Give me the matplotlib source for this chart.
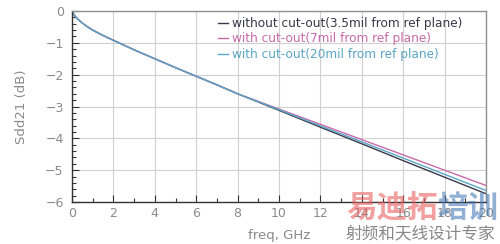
import matplotlib.pyplot as plt
from matplotlib.ticker import MultipleLocator

freq = [0, 0.1, 0.25, 0.5, 0.75, 1, 1.5, 2, 3, 4, 5, 6, 7, 8, 10, 12, 14, 16, 18, 20]
base = [0, -0.12, -0.24, -0.38, -0.5, -0.6, -0.77, -0.92, -1.22, -1.5, -1.78, -2.05, -2.32, -2.6]
sdd21_35mil = base + [-3.12, -3.65, -4.17, -4.7, -5.22, -5.74]
sdd21_7mil = base + [-3.08, -3.56, -4.04, -4.52, -5.0, -5.48]
sdd21_20mil = base + [-3.1, -3.61, -4.11, -4.62, -5.13, -5.64]
labels = ["without cut-out(3.5mil from ref plane)",
          "with cut-out(7mil from ref plane)",
          "with cut-out(20mil from ref plane)"]
colors = ["#383848", "#c86aa8", "#5aa6c6"]

fig = plt.figure(figsize=(5, 2.44), dpi=100)
ax = fig.add_axes([0.144, 0.172, 0.828, 0.783])

for y, lab, c in zip([sdd21_35mil, sdd21_7mil, sdd21_20mil], labels, colors):
    ax.plot(freq, y, color=c, lw=1.0, label=lab)

ax.set_xlim(0, 20)
ax.set_ylim(-6, 0)
ax.xaxis.set_major_locator(MultipleLocator(2))
ax.xaxis.set_minor_locator(MultipleLocator(1))
ax.yaxis.set_major_locator(MultipleLocator(1))
ax.yaxis.set_minor_locator(MultipleLocator(0.2))
ax.grid(True, which="major", color="#d0d0d0", lw=0.8)
ax.tick_params(which="both", direction="in", colors="#333333", labelcolor="#8a8a8a",
               labelsize=9, width=0.8)
ax.tick_params(which="major", length=5)
ax.tick_params(which="minor", length=3)
ax.tick_params(axis="y", pad=6)
for s in ["top", "right"]:
    ax.spines[s].set_color("#909090")
    ax.spines[s].set_linewidth(1.0)
for s in ["left", "bottom"]:
    ax.spines[s].set_color("#333333")
    ax.spines[s].set_linewidth(1.0)

ax.set_ylabel("Sdd21 (dB)", color="#8a8a8a", fontsize=9.5)
ax.set_xlabel("freq, GHz", color="#8a8a8a", fontsize=9.5)
ax.yaxis.set_label_coords(-0.107, 0.5)
ax.xaxis.set_label_coords(0.5, -0.14)

leg = ax.legend(loc="upper left", bbox_to_anchor=(0.436, 0.93), bbox_transform=fig.transFigure,
                frameon=False, fontsize=8.7, handlelength=0.8, handletextpad=0.4,
                labelspacing=0.2, borderaxespad=0, borderpad=0)
for t, c in zip(leg.get_texts(), colors):
    t.set_color(c)

# watermark
cjk = ["Noto Sans CJK SC", "DejaVu Sans"]
fig.text(0.692, 0.08, "易迪拓", family=cjk, fontsize=22, fontweight="bold",
         color="#e86060", alpha=0.6, va="bottom")
fig.text(0.874, 0.08, "培训", family=cjk, fontsize=22, fontweight="bold",
         color="#4a7ab8", alpha=0.6, va="bottom")
fig.text(0.692, 0.005, "射频和天线设计专家", family=cjk, fontsize=12,
         color="#888888", va="bottom")

fig.savefig("out.png", dpi=100)
